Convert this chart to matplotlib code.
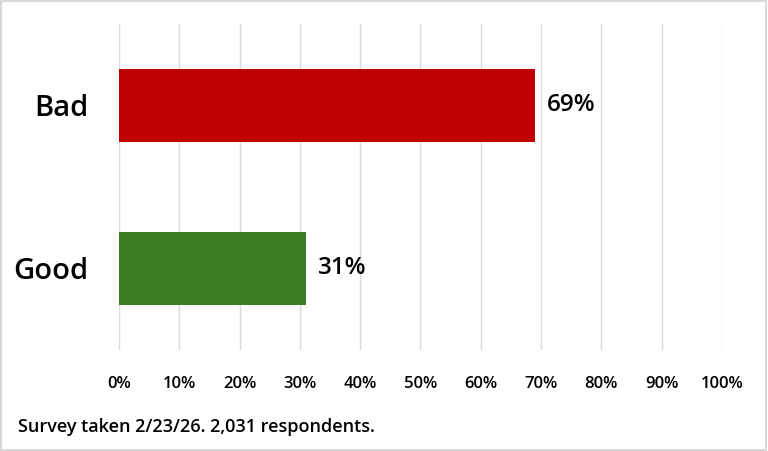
import matplotlib

matplotlib.use("Agg")
import matplotlib.pyplot as plt
from matplotlib.patches import Rectangle
from matplotlib.ticker import FuncFormatter, MultipleLocator

categories = ["Good", "Bad"]
shares = [31, 69]
bar_colors = ["#3b7d23", "#c00000"]
footer = "Survey taken 2/23/26. 2,031 respondents."

plt.rcParams["font.family"] = ["Open Sans", "DejaVu Sans"]

fig = plt.figure(figsize=(7.68, 4.51), dpi=100)
ax = fig.add_axes([0.155, 0.224, 0.785, 0.723])

bars = ax.barh(categories, shares, height=0.45, color=bar_colors, zorder=3)
for bar, value in zip(bars, shares):
    ax.text(bar.get_width() + 2, bar.get_y() + bar.get_height() / 2, f"{value}%",
            ha="left", va="center", fontsize=17.5, color="black", fontweight="semibold")

ax.set_xlim(0, 100)
ax.set_ylim(-0.5, 1.5)
ax.xaxis.set_major_locator(MultipleLocator(10))
ax.xaxis.set_major_formatter(FuncFormatter(lambda v, _: f"{v:.0f}%"))
ax.grid(True, axis="x", color="#d9d9d9", linewidth=1, zorder=0)
for side in ax.spines.values():
    side.set_visible(False)
ax.tick_params(axis="x", length=0, pad=19, labelsize=12)
ax.tick_params(axis="y", length=0, pad=22, labelsize=21)
for lbl in ax.get_yticklabels():
    lbl.set_fontweight("semibold")
for lbl in ax.get_xticklabels():
    lbl.set_fontweight("semibold")

fig.text(18 / 768, 1 - 427 / 451, footer, ha="left", va="center", fontsize=13,
         fontweight="semibold")
fig.patches.append(Rectangle((0.001, 0.002), 0.997, 0.996, transform=fig.transFigure,
                             fill=False, edgecolor="#d9d9d9", linewidth=1.5))

fig.savefig("out.png", dpi=100)
